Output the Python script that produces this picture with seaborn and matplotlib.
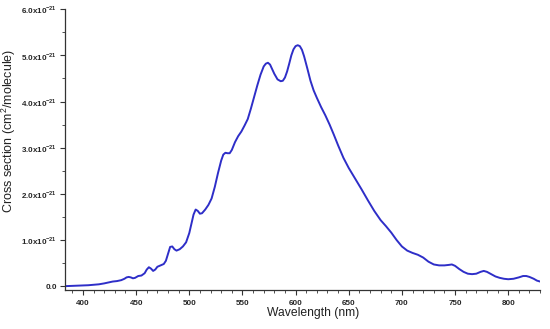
import numpy as np
import pandas as pd
import seaborn as sns
import matplotlib
matplotlib.use("Agg")
import matplotlib.pyplot as plt
from matplotlib.ticker import MultipleLocator, FuncFormatter

wavelength = [383, 395, 405, 415, 420, 424, 428, 432, 436, 439, 441, 443, 445, 447, 449, 452,
              455, 458, 460, 462, 464, 466, 468, 470, 473, 476, 478, 480, 482, 484, 486, 488,
              491, 494, 497, 500, 502, 504, 506, 508, 510, 512, 515, 518, 521, 524, 527, 530,
              532, 534, 536, 538, 540, 543, 546, 549, 552, 555, 558, 561, 564, 567, 570, 572,
              574, 576, 578, 580, 583, 586, 588, 590, 592, 594, 596, 598, 600, 602, 604, 606,
              608, 611, 614, 617, 620, 624, 628, 632, 636, 640, 645, 650, 656, 662, 668, 674,
              680, 685, 690, 695, 700, 705, 710, 715, 720, 725, 730, 735, 740, 744, 747, 750,
              754, 758, 762, 766, 770, 774, 777, 780, 784, 788, 792, 796, 800, 805, 810, 814,
              817, 820, 824, 827, 830]
cross_section = [0.0, 0.01, 0.02, 0.04, 0.06, 0.08, 0.1, 0.11, 0.13, 0.16, 0.19, 0.2, 0.19, 0.17, 0.18, 0.22,
                 0.23, 0.28, 0.36, 0.41, 0.38, 0.33, 0.36, 0.42, 0.45, 0.48, 0.55, 0.7, 0.85, 0.86, 0.8, 0.77,
                 0.8, 0.86, 0.95, 1.15, 1.35, 1.55, 1.66, 1.63, 1.57, 1.58, 1.66, 1.76, 1.9, 2.15, 2.45, 2.72,
                 2.85, 2.89, 2.88, 2.88, 2.95, 3.12, 3.25, 3.35, 3.48, 3.62, 3.85, 4.1, 4.35, 4.58, 4.76, 4.82,
                 4.84, 4.8, 4.7, 4.6, 4.48, 4.44, 4.45, 4.52, 4.65, 4.82, 5.0, 5.13, 5.2, 5.22, 5.2, 5.12,
                 4.98, 4.72, 4.45, 4.24, 4.08, 3.88, 3.7, 3.5, 3.28, 3.05, 2.78, 2.56, 2.33, 2.1, 1.86, 1.63,
                 1.43, 1.3, 1.16, 1.0, 0.86, 0.77, 0.72, 0.68, 0.62, 0.53, 0.47, 0.45, 0.45, 0.46, 0.47, 0.44,
                 0.37, 0.31, 0.27, 0.26, 0.27, 0.31, 0.33, 0.31, 0.26, 0.21, 0.18, 0.16, 0.15, 0.16, 0.19, 0.22,
                 0.22, 0.2, 0.16, 0.12, 0.1]

df = pd.DataFrame({"wl": wavelength, "cs": cross_section})

sns.set_style("ticks")
plt.rcParams["font.family"] = ["Liberation Sans", "DejaVu Sans"]

fig = plt.figure(figsize=(5.5, 3.29), dpi=100)
ax = fig.add_axes([0.118, 0.119, 0.864, 0.853])
sns.lineplot(data=df, x="wl", y="cs", ax=ax, color="#2e2ec8", linewidth=1.4)

ax.set_xlim(383, 830)
ax.set_ylim(-0.08, 6.0)
ax.xaxis.set_major_locator(MultipleLocator(50))
ax.xaxis.set_minor_locator(MultipleLocator(10))
ax.yaxis.set_major_locator(MultipleLocator(1))
ax.yaxis.set_minor_locator(MultipleLocator(0.5))

def yfmt(v, pos):
    if abs(v) < 1e-9:
        return "0.0"
    return r"%.1fx10$^{\mathregular{-21}}$" % v

ax.yaxis.set_major_formatter(FuncFormatter(yfmt))
for lab in ax.get_xticklabels() + ax.get_yticklabels():
    lab.set_fontweight("bold")
ax.tick_params(axis="both", which="major", labelsize=5.8, length=3.5, width=0.8, color="#333333", pad=2)
ax.tick_params(axis="x", which="major", pad=3.5)
ax.tick_params(axis="both", which="minor", length=2, width=0.6, color="#333333")
for s in ["top", "right"]:
    ax.spines[s].set_visible(False)
for s in ["left", "bottom"]:
    ax.spines[s].set_linewidth(0.9)
    ax.spines[s].set_color("#333333")

ax.set_xlabel("Wavelength (nm)", fontsize=8.7, color="#222222")
ax.set_ylabel(r"Cross section (cm$^{\mathregular{2}}$/molecule)", fontsize=9.0, color="#222222")
ax.xaxis.set_label_coords(0.522, -0.06)
ax.yaxis.set_label_coords(-0.099, 0.566)

fig.savefig("out.png", dpi=100)
